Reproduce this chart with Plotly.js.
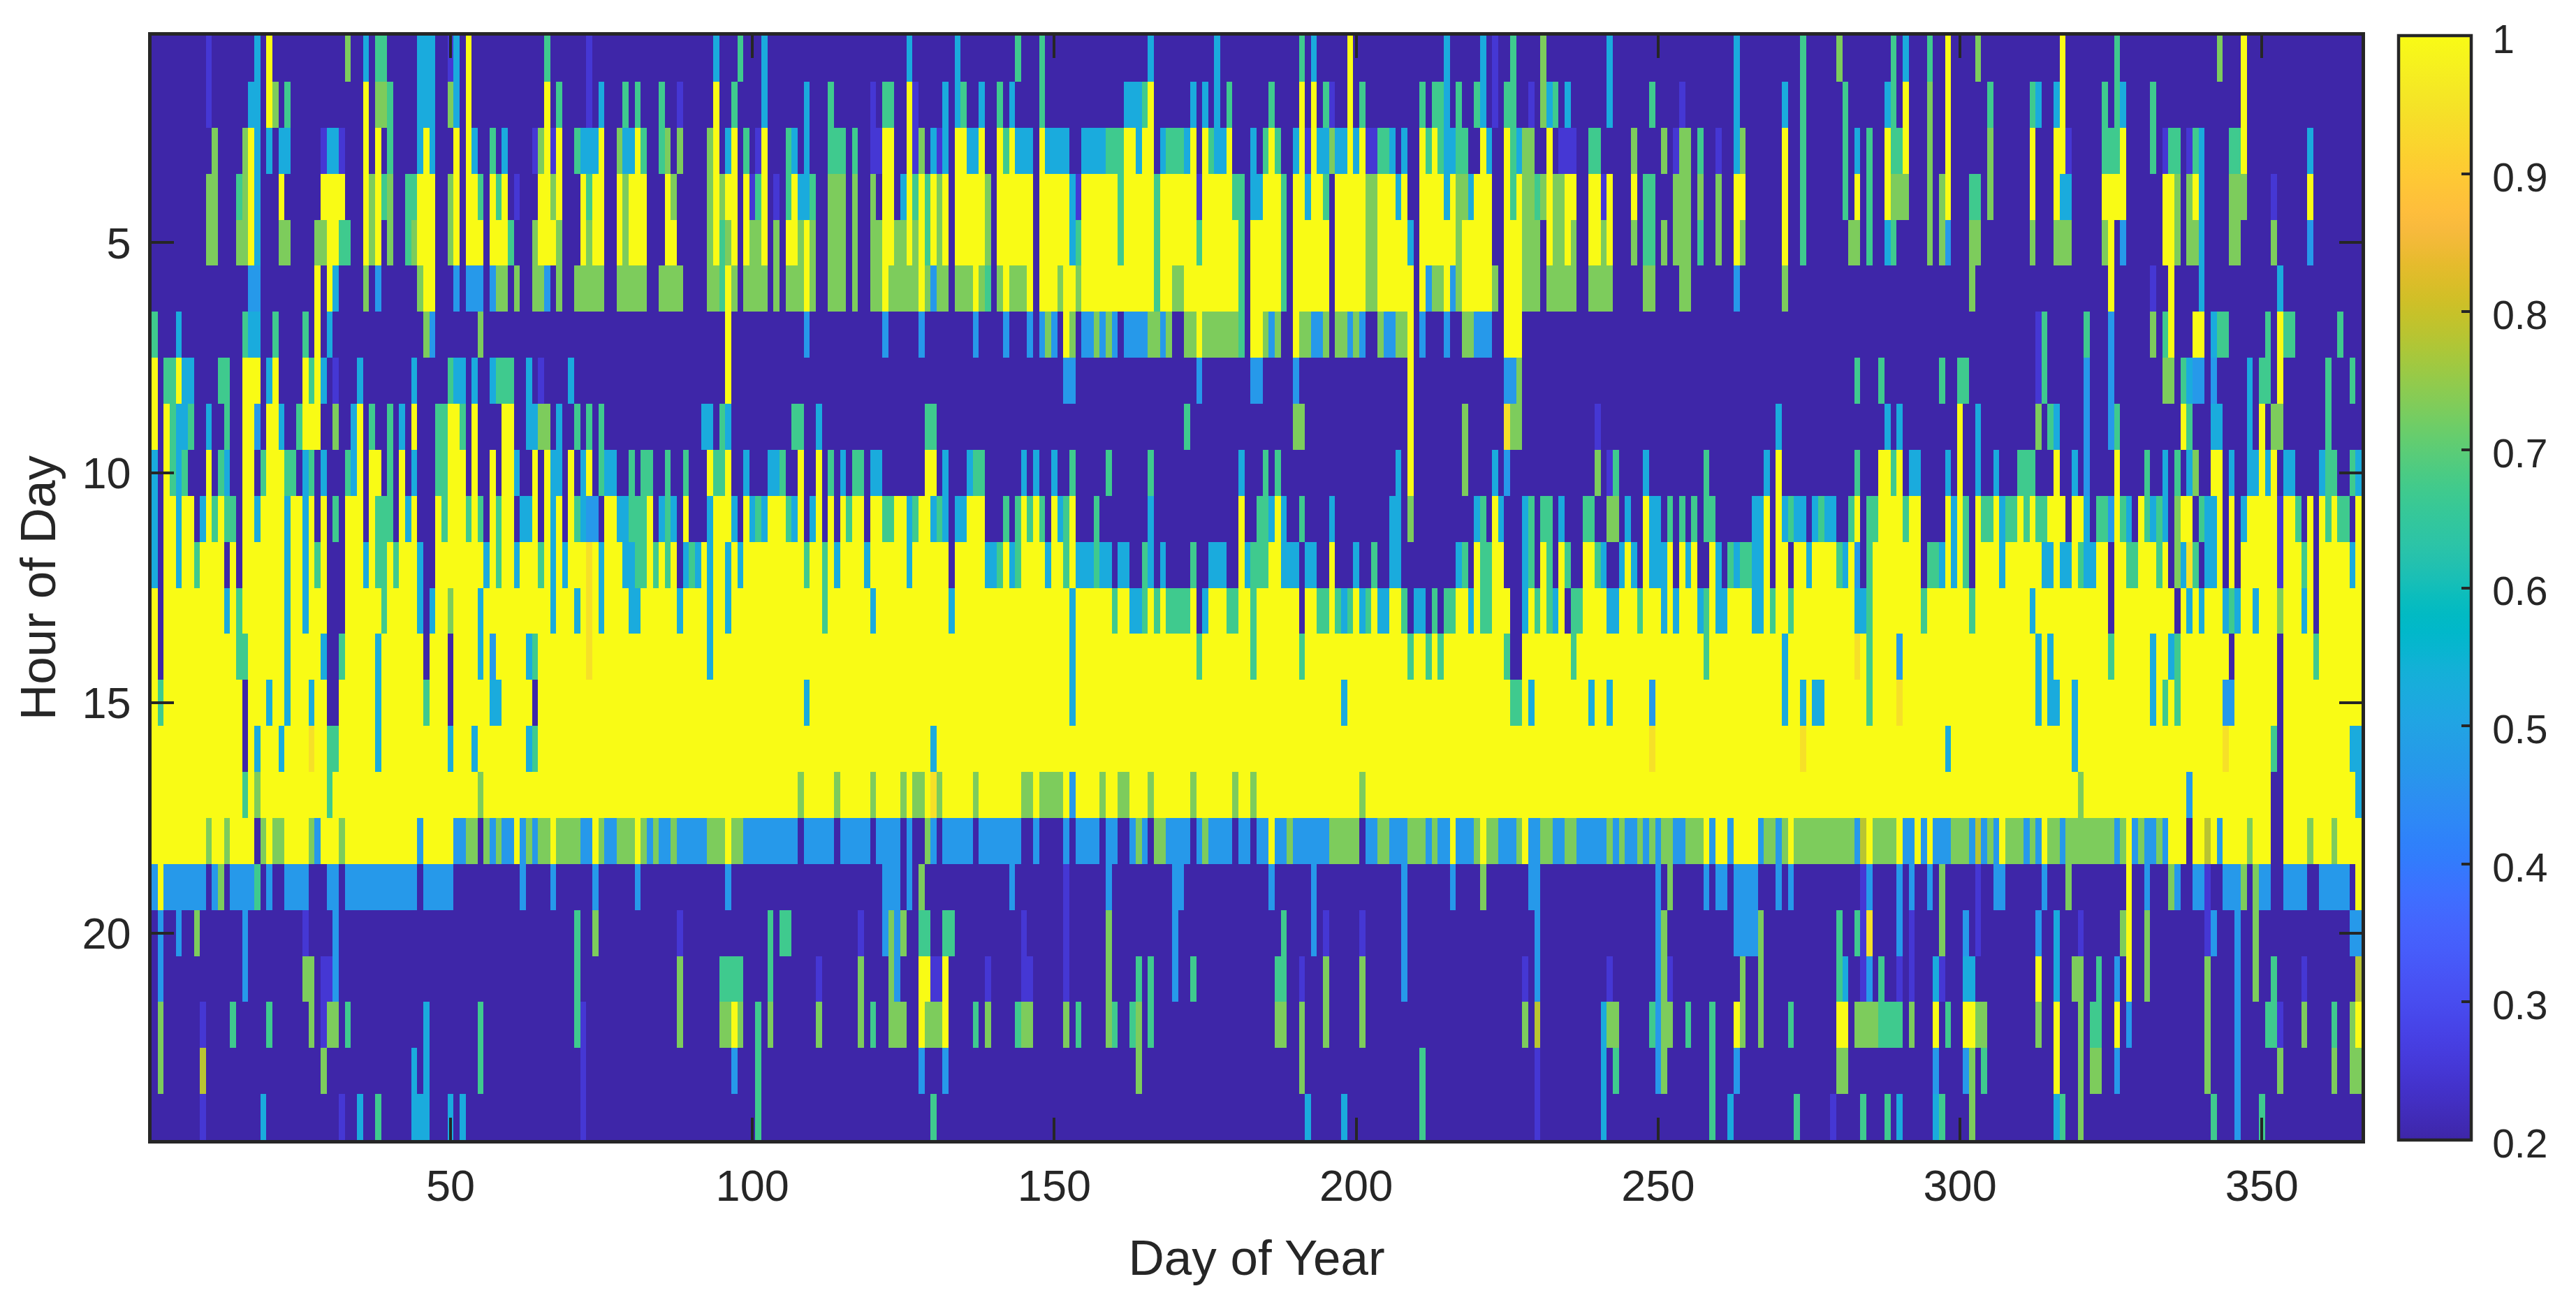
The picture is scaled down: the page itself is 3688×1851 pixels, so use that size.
<!DOCTYPE html>
<html><head><meta charset="utf-8">
<script src="https://cdn.plot.ly/plotly-3.0.1.min.js"></script>
<style>html,body{margin:0;padding:0;background:#fff}</style></head>
<body><div id="chart" style="width:3688px;height:1851px"></div>
<script>
// Levels (index = code used in the rows below).
const levels=[0.2,0.25,0.472,0.524,0.67,0.73,0.784,0.944,1,1];
const days=Array.from({length:366},(_,i)=>i+1);
const hours=Array.from({length:24},(_,i)=>i+1);
const xTicks=[50,100,150,200,250,300,350];
const yTicks=[5,10,15,20];
const cbTicks=[0.2,0.3,0.4,0.5,0.6,0.7,0.8,0.9,1];
const cbText=['0.2','0.3','0.4','0.5','0.6','0.7','0.8','0.9','1'];
// Each entry: [day,code] or [firstDay,lastDay,code]; later entries overwrite earlier ones; unlisted = code 0.
const hour01=[[10,1],[18,3],[20,9],[33,5],[36,3],[38,39,4],[45,47,3],[50,1],[51,3],[53,9],[66,4],[73,1],[94,3],[98,4],[102,3],[126,3],[134,3],[144,4],[148,4],[166,3],[177,3],[191,4],[193,3],[199,9],[215,3],[221,3],[223,1],[226,4],[231,5],[242,3],[263,3],[274,4],[280,5],[289,4],[291,3],[295,4],[298,9],[303,5],[317,9],[326,4],[343,5],[347,9]];
const hour02=[[10,1],[17,18,3],[20,9],[21,5],[23,4],[36,9],[38,39,5],[40,4],[45,47,3],[50,5],[51,3],[53,9],[66,9],[68,4],[73,1],[75,3],[79,4],[81,4],[85,4],[88,1],[94,9],[97,4],[102,3],[109,3],[113,4],[120,1],[122,123,4],[126,9],[127,1],[132,3],[134,3],[135,4],[138,3],[141,4],[143,3],[148,4],[162,164,3],[165,4],[166,9],[173,3],[175,3],[177,3],[179,4],[186,4],[191,9],[193,9],[195,4],[196,1],[199,9],[201,4],[211,4],[213,214,4],[215,3],[217,4],[220,4],[221,3],[223,1],[225,226,4],[229,1],[231,5],[232,3],[233,4],[235,3],[242,3],[249,4],[254,1],[263,3],[271,3],[274,4],[281,4],[288,3],[289,4],[291,9],[295,5],[298,9],[305,4],[312,4],[313,3],[316,3],[317,9],[324,4],[326,4],[327,3],[332,4],[347,9]];
const hour03=[[11,5],[16,5],[17,9],[18,3],[20,3],[22,23,3],[29,1],[30,31,3],[32,1],[36,9],[38,9],[40,4],[45,3],[46,9],[47,3],[51,9],[53,9],[54,3],[57,4],[59,3],[64,1],[65,5],[66,9],[67,1],[68,9],[71,4],[72,74,3],[75,9],[78,5],[79,80,3],[81,9],[82,4],[85,4],[86,5],[88,5],[93,5],[94,9],[96,3],[97,9],[99,4],[101,1],[102,9],[106,4],[107,3],[109,3],[113,115,4],[117,4],[120,121,1],[122,123,9],[126,9],[127,1],[128,5],[130,3],[131,1],[132,3],[134,135,9],[136,137,3],[138,9],[141,9],[142,4],[143,9],[144,146,3],[148,9],[149,152,3],[155,158,3],[159,160,4],[161,4],[162,163,9],[164,3],[165,166,9],[168,3],[169,171,4],[172,3],[173,9],[175,9],[176,4],[177,178,3],[179,9],[183,3],[185,4],[186,9],[187,4],[190,3],[191,9],[192,1],[193,9],[194,195,3],[196,5],[197,198,3],[199,9],[200,3],[201,9],[202,203,1],[204,205,4],[206,3],[208,3],[211,9],[212,4],[213,9],[214,4],[215,216,3],[217,218,4],[221,9],[222,3],[225,9],[226,4],[227,3],[228,229,5],[232,9],[234,236,1],[239,240,4],[246,5],[251,5],[253,1],[254,255,5],[257,4],[260,1],[263,3],[264,5],[271,9],[274,4],[281,4],[283,3],[285,4],[288,9],[289,290,4],[291,9],[295,5],[298,9],[305,5],[312,9],[316,317,9],[318,1],[324,326,4],[327,9],[332,4],[334,1],[335,336,4],[338,1],[339,4],[340,3],[345,346,4],[347,9],[358,3]];
const hour04=[[10,11,5],[15,4],[16,5],[17,9],[18,3],[22,9],[29,32,9],[36,9],[37,5],[38,9],[39,4],[40,5],[43,44,4],[45,47,9],[50,5],[51,9],[53,54,9],[55,4],[57,9],[58,4],[59,9],[61,1],[65,66,9],[67,5],[68,9],[72,9],[73,4],[74,75,9],[78,9],[79,5],[80,82,9],[86,9],[87,5],[93,5],[94,9],[95,5],[96,97,9],[99,9],[100,1],[101,4],[102,9],[104,1],[106,4],[107,9],[108,3],[109,3],[110,4],[113,115,5],[117,5],[120,5],[122,123,9],[125,3],[126,9],[127,4],[128,9],[129,4],[130,9],[131,5],[132,9],[134,138,9],[139,5],[141,146,9],[148,152,9],[153,3],[154,1],[155,160,9],[161,4],[162,166,9],[167,4],[168,173,9],[174,1],[175,179,9],[180,181,4],[183,184,3],[185,187,9],[188,4],[190,191,9],[192,3],[193,194,9],[195,4],[197,201,9],[202,203,5],[204,206,9],[207,3],[208,9],[211,214,9],[215,3],[216,9],[217,218,5],[219,3],[220,222,9],[225,9],[226,4],[227,9],[228,229,5],[230,4],[231,5],[232,9],[233,234,5],[235,236,9],[239,240,9],[241,1],[242,9],[246,9],[248,249,4],[253,255,5],[257,5],[260,5],[263,264,9],[271,9],[274,4],[281,4],[283,9],[285,4],[288,9],[289,291,5],[295,5],[297,5],[298,9],[302,303,4],[305,5],[312,9],[316,9],[317,318,3],[324,325,9],[326,327,9],[334,335,9],[336,5],[338,5],[339,9],[340,3],[345,347,5],[352,1],[358,9]];
const hour05=[[10,11,5],[15,16,5],[17,9],[18,3],[22,23,5],[28,29,5],[30,31,9],[32,33,4],[36,9],[37,5],[38,9],[40,5],[43,4],[44,5],[45,47,9],[50,5],[51,9],[53,55,9],[57,59,9],[60,4],[64,5],[65,67,9],[68,5],[72,9],[73,5],[74,75,9],[78,9],[79,5],[80,82,9],[86,87,9],[93,5],[94,9],[95,4],[96,5],[97,9],[99,9],[100,101,5],[102,9],[104,5],[106,107,9],[108,5],[109,9],[110,5],[113,115,5],[117,5],[120,121,5],[122,123,9],[124,126,5],[126,9],[127,5],[128,9],[129,4],[130,9],[131,5],[132,9],[134,138,9],[139,5],[141,146,9],[148,152,9],[153,3],[154,4],[155,160,9],[161,4],[162,166,9],[167,4],[168,173,9],[174,4],[175,180,9],[181,4],[183,187,9],[188,4],[190,195,9],[197,201,9],[202,203,5],[204,208,9],[209,3],[211,216,9],[217,5],[218,222,9],[225,227,9],[228,230,5],[232,9],[233,234,5],[235,9],[236,5],[239,240,9],[241,5],[242,9],[246,5],[248,249,4],[251,5],[253,255,5],[257,4],[260,5],[263,9],[264,5],[271,9],[274,4],[282,283,5],[285,4],[288,3],[289,4],[295,5],[297,5],[298,2],[302,303,5],[312,5],[316,318,5],[324,5],[325,9],[327,2],[334,335,9],[336,5],[338,339,5],[340,3],[345,346,5],[352,5],[358,2]];
const hour06=[[17,18,2],[28,9],[30,9],[31,3],[36,5],[38,2],[45,5],[46,47,9],[51,2],[53,55,2],[57,2],[58,59,5],[61,5],[64,65,5],[66,2],[68,5],[71,75,5],[78,82,5],[85,88,5],[93,94,5],[95,4],[96,9],[97,5],[99,102,5],[104,5],[106,110,5],[109,9],[113,115,5],[117,5],[120,127,5],[122,9],[128,9],[129,5],[130,2],[131,132,5],[134,136,5],[137,9],[138,5],[139,4],[141,5],[142,9],[143,145,5],[146,9],[148,150,9],[151,5],[152,153,9],[154,5],[155,166,9],[167,4],[168,169,9],[170,171,5],[172,180,9],[181,4],[183,187,9],[188,4],[190,195,9],[197,201,9],[202,203,5],[204,209,9],[211,9],[212,2],[213,214,5],[215,9],[216,2],[217,5],[218,222,9],[223,5],[225,227,9],[228,230,5],[232,236,5],[239,242,5],[248,249,5],[254,255,5],[263,2],[271,5],[302,5],[325,9],[332,1],[335,9],[340,3],[353,3]];
const hour07=[[1,4],[5,3],[16,4],[17,18,3],[21,4],[26,4],[28,9],[30,3],[46,5],[47,2],[55,5],[96,9],[109,2],[122,2],[128,2],[137,2],[142,2],[146,2],[148,2],[149,5],[150,2],[152,9],[153,5],[155,156,2],[157,5],[158,2],[159,5],[160,2],[162,165,2],[166,167,5],[168,2],[169,5],[172,173,5],[174,9],[175,180,5],[181,4],[183,184,9],[185,5],[186,2],[187,5],[190,9],[191,192,5],[193,194,2],[195,5],[197,198,5],[199,2],[200,5],[201,2],[204,5],[205,206,2],[207,208,5],[209,9],[211,2],[215,2],[218,219,5],[220,222,2],[225,227,9],[313,1],[314,4],[321,4],[325,2],[332,5],[334,4],[335,9],[339,340,9],[342,3],[343,344,4],[351,4],[353,9],[354,355,4],[363,4]];
const hour08=[[1,9],[3,4,4],[5,9],[6,7,3],[12,13,4],[16,18,9],[20,3],[21,9],[26,9],[27,4],[28,9],[29,3],[31,1],[35,3],[44,3],[50,4],[51,52,3],[54,3],[57,3],[58,60,4],[63,3],[65,1],[70,3],[96,9],[152,153,2],[174,2],[183,184,2],[190,2],[209,9],[225,226,2],[227,5],[283,4],[287,4],[297,4],[300,301,4],[313,1],[314,4],[321,2],[325,2],[334,335,5],[337,4],[338,3],[339,2],[340,2],[342,2],[348,3],[350,351,4],[353,9],[361,4],[365,4]];
const hour09=[[1,9],[3,9],[4,4],[5,6,3],[7,4],[10,3],[13,4],[16,17,9],[18,2],[20,21,9],[22,3],[25,4],[26,28,9],[31,5],[34,3],[35,9],[37,4],[40,4],[42,3],[44,9],[48,49,4],[50,51,9],[52,4],[54,9],[59,60,9],[63,64,3],[65,66,5],[68,3],[71,4],[73,4],[75,4],[92,93,3],[95,4],[96,3],[107,108,4],[111,3],[129,130,4],[172,4],[190,191,5],[209,9],[218,5],[225,7],[226,227,5],[240,1],[270,3],[288,3],[290,3],[300,9],[303,3],[313,5],[315,4],[316,3],[321,2],[325,2],[326,4],[337,9],[338,4],[342,343,3],[348,3],[350,9],[352,353,5],[361,4]];
const hour10=[[1,3],[3,9],[4,4],[5,3],[6,4],[10,9],[12,4],[13,3],[16,17,9],[19,4],[20,22,9],[23,24,4],[26,3],[27,4],[29,3],[33,4],[34,3],[35,9],[37,38,9],[40,4],[42,9],[44,3],[48,49,4],[50,52,9],[54,9],[57,9],[59,60,9],[61,3],[64,9],[66,9],[67,68,3],[70,9],[72,3],[73,9],[75,4],[76,77,3],[80,4],[82,83,4],[86,4],[89,4],[93,9],[94,95,4],[96,9],[99,3],[103,104,3],[105,4],[108,9],[111,9],[113,4],[115,3],[117,118,4],[120,121,3],[129,130,9],[132,3],[136,3],[137,138,4],[145,3],[147,3],[150,3],[153,4],[159,4],[166,4],[181,3],[185,4],[187,4],[207,3],[209,9],[218,5],[223,3],[225,2],[240,5],[242,1],[243,4],[248,3],[258,4],[268,3],[270,9],[283,4],[287,288,9],[289,4],[290,9],[292,293,3],[298,3],[300,9],[303,3],[306,3],[310,312,4],[316,9],[319,3],[321,2],[326,9],[331,4],[334,3],[336,4],[338,3],[339,5],[342,343,9],[345,3],[348,349,3],[350,9],[351,3],[352,9],[354,355,3],[360,3],[361,362,4],[365,4],[366,3]];
const hour11=[[1,3],[3,4,9],[5,3],[6,7,9],[9,3],[10,9],[11,4],[12,9],[13,14,4],[16,17,9],[18,3],[19,22,9],[23,3],[24,25,9],[26,3],[27,9],[29,9],[31,4],[33,35,9],[37,9],[38,40,4],[42,9],[43,3],[44,9],[48,9],[49,4],[50,52,9],[53,4],[54,9],[55,4],[57,9],[58,4],[59,60,9],[62,63,3],[64,9],[66,9],[67,3],[68,9],[70,9],[71,4],[72,3],[73,74,2],[76,77,9],[78,79,3],[80,82,4],[83,9],[85,3],[86,4],[87,3],[89,9],[93,3],[94,96,9],[97,3],[99,9],[100,3],[101,4],[102,3],[103,105,9],[106,4],[107,3],[108,9],[110,3],[111,9],[113,9],[115,9],[116,4],[117,118,9],[120,121,9],[122,123,4],[124,125,9],[126,3],[127,4],[128,129,9],[130,3],[131,4],[132,3],[134,135,3],[136,138,9],[142,4],[144,4],[145,9],[146,4],[147,9],[148,4],[150,9],[151,3],[152,4],[153,9],[157,4],[166,3],[181,9],[184,185,4],[186,3],[187,9],[188,3],[191,4],[196,3],[206,207,3],[209,5],[220,3],[221,4],[223,9],[224,3],[228,3],[229,4],[231,232,4],[234,3],[238,239,4],[242,243,5],[245,3],[248,9],[249,250,3],[252,4],[254,4],[256,4],[258,259,4],[266,267,3],[268,9],[270,9],[271,3],[272,4],[273,274,3],[276,3],[277,4],[278,279,3],[282,4],[283,9],[285,286,4],[287,290,9],[291,4],[292,293,9],[298,9],[299,3],[300,9],[301,4],[303,9],[304,305,4],[306,9],[307,3],[308,309,4],[310,9],[311,4],[312,9],[313,314,4],[315,317,9],[319,320,9],[321,3],[323,324,4],[325,2],[326,9],[327,4],[328,3],[330,9],[331,4],[332,3],[333,4],[334,3],[336,5],[337,338,9],[340,4],[341,342,3],[343,9],[345,9],[347,3],[348,352,9],[353,1],[354,355,9],[356,4],[358,9],[360,9],[361,4],[362,9],[363,364,4],[366,9]];
const hour12=[[1,3],[3,4,9],[5,3],[6,7,9],[8,4],[9,12,9],[14,9],[16,22,9],[23,3],[24,25,9],[26,3],[27,9],[28,4],[29,9],[33,35,9],[36,3],[37,9],[38,39,4],[40,9],[41,4],[42,44,9],[45,3],[48,55,9],[56,3],[57,9],[58,4],[59,60,9],[61,3],[62,64,9],[65,4],[66,9],[67,3],[68,9],[69,3],[70,72,9],[73,7],[74,9],[75,3],[76,78,9],[79,80,3],[81,82,4],[83,9],[84,4],[85,9],[86,4],[87,9],[89,3],[90,4],[91,3],[92,9],[93,3],[94,95,9],[96,3],[97,9],[98,3],[99,108,9],[109,4],[110,111,9],[112,4],[113,9],[114,3],[115,118,9],[119,3],[120,125,9],[126,3],[127,132,9],[134,138,9],[139,140,3],[141,4],[142,9],[143,3],[144,4],[145,148,9],[149,3],[150,151,9],[152,4],[153,9],[154,156,3],[157,4],[158,159,3],[161,162,3],[165,4],[166,3],[168,3],[173,4],[176,178,3],[181,9],[182,3],[183,185,4],[186,187,9],[188,190,3],[192,193,3],[196,9],[200,3],[203,4],[206,207,3],[217,3],[218,4],[220,9],[221,222,4],[223,224,9],[228,3],[229,4],[231,9],[232,4],[234,9],[235,4],[238,239,9],[240,4],[241,3],[244,3],[245,9],[246,3],[248,9],[249,251,3],[252,9],[254,9],[255,3],[256,9],[259,9],[260,3],[262,4],[263,3],[264,265,4],[266,267,3],[268,9],[270,271,9],[273,274,9],[275,3],[276,279,9],[280,4],[281,3],[282,9],[283,2],[285,4],[286,293,9],[295,296,4],[297,3],[298,9],[299,3],[300,9],[301,4],[303,306,9],[307,3],[308,313,9],[314,315,3],[316,9],[317,318,3],[319,9],[320,4],[321,322,3],[323,324,9],[326,327,9],[328,329,4],[330,332,9],[333,4],[334,9],[336,5],[337,3],[338,7],[339,4],[341,342,3],[343,9],[345,9],[347,352,9],[353,1],[354,356,9],[357,4],[358,9],[360,364,9],[365,3],[366,9]];
const hour13=[[1,366,9],[2,0],[13,3],[15,4],[23,3],[26,3],[30,32,0],[39,4],[45,3],[46,0],[47,3],[50,5],[55,3],[67,3],[71,3],[73,7],[75,3],[80,81,3],[88,3],[93,3],[96,3],[112,4],[120,3],[133,3],[153,3],[160,4],[163,164,3],[165,4],[167,4],[169,172,4],[174,0],[175,3],[179,180,4],[183,4],[191,0],[194,195,4],[197,4],[198,3],[199,4],[201,3],[202,4],[204,205,3],[208,4],[209,0],[210,211,3],[212,0],[213,4],[214,0],[215,216,4],[219,3],[221,222,4],[226,227,0],[228,3],[230,4],[232,4],[233,3],[235,0],[236,237,4],[242,243,3],[247,4],[251,3],[253,3],[257,3],[258,4],[260,261,3],[266,267,3],[269,4],[272,4],[283,284,3],[285,4],[294,4],[302,4],[312,3],[325,0],[336,0],[338,3],[340,3],[344,3],[345,4],[346,3],[349,3],[353,5],[357,3],[359,0]];
const hour14=[[1,366,9],[2,0],[15,16,4],[23,3],[29,3],[30,31,0],[32,4],[38,3],[46,0],[50,0],[55,3],[57,2],[63,3],[64,4],[73,7],[93,3],[153,3],[174,4],[183,4],[191,4],[209,4],[212,4],[214,4],[225,4],[226,227,0],[236,4],[258,4],[271,3],[283,7],[285,4],[290,2],[313,3],[315,3],[325,4],[332,3],[335,3],[336,4],[345,0],[353,0],[359,4]];
const hour15=[[1,366,9],[2,4],[16,0],[20,3],[23,3],[27,3],[30,31,0],[38,3],[46,4],[50,0],[57,58,3],[64,0],[109,3],[153,3],[198,3],[226,227,4],[229,3],[239,3],[242,3],[249,2],[271,3],[274,3],[276,277,3],[285,4],[290,7],[313,3],[315,316,3],[319,3],[332,3],[334,4],[336,4],[344,345,2],[353,0]];
const hour16=[[1,366,9],[16,0],[18,3],[22,3],[27,7],[30,31,4],[38,3],[50,3],[54,3],[63,3],[64,4],[130,3],[249,7],[274,7],[298,3],[319,3],[344,7],[352,4],[353,0],[365,366,3]];
const hour17=[[1,366,9],[16,4],[18,5],[30,4],[55,5],[108,5],[114,5],[120,5],[125,5],[127,128,5],[130,7],[131,5],[137,5],[145,146,5],[148,151,5],[153,2],[158,5],[161,162,5],[166,5],[173,5],[180,5],[183,5],[201,5],[320,5],[338,2],[352,353,0],[366,3]];
const hour18=[[1,50,9],[51,252,2],[253,366,9],[10,5],[13,5],[18,0],[19,5],[21,22,5],[27,5],[28,2],[32,5],[45,2],[53,54,5],[55,0],[56,5],[58,5],[61,9],[63,5],[65,66,5],[67,9],[68,71,5],[74,9],[75,5],[78,80,5],[81,9],[82,5],[84,5],[87,5],[93,95,5],[96,9],[97,98,5],[108,0],[114,0],[120,0],[125,0],[127,128,0],[129,5],[131,0],[137,0],[145,146,0],[148,151,0],[153,0],[158,0],[161,162,0],[164,5],[166,0],[167,168,5],[173,0],[175,5],[180,0],[183,0],[186,9],[189,5],[196,200,5],[201,0],[204,205,5],[209,211,5],[213,5],[216,9],[220,5],[221,9],[222,223,5],[227,5],[228,9],[231,232,5],[235,236,5],[242,5],[244,5],[247,5],[249,5],[251,252,5],[253,254,2],[255,257,5],[259,2],[262,2],[267,2],[268,269,5],[270,2],[271,5],[273,282,5],[283,2],[284,6],[286,289,5],[291,292,2],[294,2],[296,298,2],[299,301,5],[302,2],[303,6],[304,2],[305,5],[306,2],[308,310,5],[311,2],[312,5],[313,2],[315,316,5],[317,2],[318,325,5],[326,2],[327,5],[329,2],[330,5],[331,332,2],[333,5],[334,2],[338,0],[341,6],[343,2],[348,5],[352,353,0],[358,5],[362,5]];
const hour19=[[1,2],[2,9],[3,9,2],[11,2],[12,5],[14,17,2],[18,4],[20,2],[23,26,2],[30,31,2],[33,44,2],[46,50,2],[62,2],[67,2],[74,2],[81,2],[96,2],[122,124,2],[126,2],[128,5],[143,2],[152,1],[159,2],[170,171,2],[186,2],[193,2],[208,2],[216,2],[221,5],[229,230,2],[250,2],[252,5],[258,2],[260,261,2],[263,266,2],[270,2],[272,2],[284,1],[285,2],[290,2],[292,2],[295,2],[297,5],[303,1],[306,307,2],[314,2],[318,5],[328,9],[331,2],[335,5],[336,2],[339,340,2],[341,1],[344,346,2],[347,5],[349,5],[350,351,2],[354,357,2],[360,362,2],[363,364,2],[366,9]];
const hour20=[[2,2],[5,2],[8,5],[16,2],[26,1],[31,2],[71,4],[74,5],[88,1],[103,4],[105,106,4],[118,1],[122,2],[123,5],[124,2],[125,5],[128,129,4],[132,133,4],[145,1],[152,1],[159,5],[170,2],[188,4],[193,2],[195,1],[201,1],[208,2],[230,2],[250,2],[251,5],[263,266,2],[267,5],[280,4],[283,4],[284,1],[285,7],[290,2],[292,1],[297,5],[301,2],[303,1],[313,2],[316,3],[320,1],[327,5],[328,9],[331,5],[341,1],[342,2],[346,2],[349,5],[365,366,2]];
const hour21=[[2,2],[16,2],[26,27,5],[29,30,1],[31,2],[71,4],[88,5],[95,98,4],[103,4],[111,1],[118,5],[123,5],[124,2],[128,129,9],[130,131,1],[132,9],[139,1],[145,146,1],[152,1],[159,5],[164,4],[166,4],[170,2],[173,4],[187,188,4],[191,1],[195,5],[201,5],[208,2],[228,1],[230,2],[242,1],[250,2],[251,5],[252,1],[264,5],[267,5],[280,4],[281,3],[284,1],[285,2],[287,4],[290,1],[292,1],[296,3],[297,1],[301,302,3],[313,9],[316,3],[319,320,5],[323,4],[326,2],[328,9],[331,5],[341,5],[346,2],[349,5],[352,4],[357,1],[366,6]];
const hour22=[[2,5],[9,1],[14,4],[20,4],[27,5],[29,1],[30,31,5],[33,4],[46,3],[55,4],[71,4],[72,1],[88,5],[95,96,5],[97,9],[98,5],[101,4],[103,5],[111,5],[118,5],[120,4],[123,125,5],[128,9],[129,131,5],[132,9],[137,4],[139,5],[144,4],[145,146,5],[152,5],[154,4],[159,5],[160,4],[163,4],[164,5],[166,4],[187,188,5],[191,5],[195,5],[201,5],[228,5],[230,6],[241,3],[242,243,5],[249,4],[250,2],[251,252,5],[255,4],[259,4],[263,9],[264,5],[267,5],[272,4],[280,281,9],[283,286,5],[287,290,4],[292,5],[296,9],[298,4],[301,302,9],[303,304,5],[313,5],[316,9],[320,5],[322,323,4],[326,9],[328,2],[341,5],[346,2],[351,352,4],[353,1],[357,5],[362,4],[365,5],[366,9]];
const hour23=[[2,5],[9,6],[29,5],[44,3],[46,3],[55,4],[72,1],[97,2],[101,4],[128,2],[132,2],[164,5],[191,5],[211,4],[230,1],[241,3],[243,4],[250,2],[251,5],[259,4],[263,2],[280,281,5],[296,2],[301,2],[302,5],[304,4],[316,9],[320,5],[322,323,5],[326,2],[341,5],[346,2],[353,5],[362,5],[365,366,5]];
const hour24=[[9,1],[19,3],[32,1],[35,3],[38,4],[44,46,3],[50,3],[52,3],[72,1],[101,4],[130,4],[192,3],[198,3],[211,4],[230,1],[241,3],[259,4],[262,3],[273,4],[279,1],[284,4],[288,4],[290,3],[296,3],[297,4],[302,5],[316,3],[317,4],[320,5],[342,4],[346,2],[350,4]];
const hourRows=[hour01,hour02,hour03,hour04,hour05,hour06,hour07,hour08,hour09,hour10,hour11,hour12,hour13,hour14,hour15,hour16,hour17,hour18,hour19,hour20,hour21,hour22,hour23,hour24];
// MATLAB parula colormap.
const parula=[[.2422,.1504,.6603],[.2504,.165,.7076],[.2578,.1818,.7511],[.2647,.1978,.7952],[.2706,.2147,.8364],[.2751,.2342,.871],[.2783,.2559,.8991],[.2803,.2782,.9221],[.2813,.3006,.9414],[.281,.3228,.9579],[.2795,.3447,.9717],[.276,.3667,.9829],[.2699,.3892,.9906],[.2602,.4123,.9952],[.244,.4358,.9988],[.2206,.4603,.9973],[.1963,.4847,.9892],[.1834,.5074,.9798],[.1786,.5289,.9682],[.1764,.5499,.952],[.1687,.5703,.9359],[.154,.5902,.9218],[.146,.6091,.9079],[.138,.6276,.8973],[.1248,.6459,.8883],[.1113,.6635,.8763],[.0952,.6798,.8598],[.0689,.6948,.8394],[.0297,.7082,.8163],[.0036,.7203,.7917],[.0067,.7312,.766],[.0433,.7411,.7394],[.0964,.75,.712],[.1408,.7584,.6842],[.1717,.767,.6554],[.1938,.7758,.6251],[.2161,.7843,.5923],[.247,.7918,.5567],[.2906,.7973,.5188],[.3406,.8008,.4789],[.3909,.8029,.4354],[.4456,.8024,.3909],[.5044,.7993,.348],[.5616,.7942,.3045],[.6174,.7876,.2612],[.672,.7793,.2227],[.7242,.7698,.191],[.7738,.7598,.1646],[.8203,.7498,.1535],[.8634,.7406,.1596],[.9035,.733,.1774],[.9393,.7288,.21],[.9728,.7298,.2394],[.9956,.7434,.2371],[.997,.7659,.2199],[.9952,.7893,.2028],[.9892,.8136,.1885],[.9786,.8386,.1766],[.9676,.8639,.1643],[.961,.889,.1537],[.9597,.9135,.1423],[.9628,.9373,.1265],[.9691,.9606,.1064],[.9769,.9839,.0805]];
const colorscale=parula.map((c,i)=>[i/(parula.length-1),'rgb('+c.map(v=>Math.round(v*255)).join(',')+')']);
const z=hourRows.map(row=>{
  const r=days.map(()=>levels[0]);
  row.forEach(e=>{const a=e[0],b=e.length===3?e[1]:e[0],c=e[e.length-1];for(let d=a;d<=b;d++)r[d-1]=levels[c];});
  return r;
});
const ink='#262626',font='"Liberation Sans",Arial,sans-serif';
const W=3688,H=1851,L=216.5,R=3381,T=51,B=1632;
function axis(extra){return Object.assign({showgrid:false,zeroline:false,showline:true,mirror:'ticks',linecolor:ink,linewidth:4.5,ticks:'inside',ticklen:32,tickwidth:4,tickcolor:ink,tickfont:{family:font,size:63,color:ink},layer:'above traces'},extra);}
Plotly.newPlot('chart',[{type:'heatmap',x:days,y:hours,z:z,zmin:0.2,zmax:1,zsmooth:false,colorscale:colorscale,
  colorbar:{x:(3434-L)/(R-L),xanchor:'left',y:1,yanchor:'top',xpad:0,ypad:0,thicknessmode:'pixels',thickness:104,lenmode:'fraction',len:1,outlinecolor:ink,outlinewidth:4.5,ticks:'inside',ticklen:16,tickwidth:4,tickcolor:ink,tickmode:'array',tickvals:cbTicks,ticktext:cbText,tickfont:{family:font,size:57,color:ink}}}],
 {width:W,height:H,paper_bgcolor:'#fff',plot_bgcolor:'#fff',margin:{l:L,r:W-R,t:T,b:H-B,pad:0},
  xaxis:axis({range:[0.5,366.5],tickmode:'array',tickvals:xTicks,ticktext:xTicks.map(String),ticklabelstandoff:7,title:{text:'Day of Year',font:{family:font,size:71,color:ink},standoff:45}}),
  yaxis:axis({range:[24.5,0.5],tickmode:'array',tickvals:yTicks,ticktext:yTicks.map(String),ticklabelstandoff:12,title:{text:'Hour of Day',font:{family:font,size:71,color:ink},standoff:16}})},
 {displayModeBar:false,responsive:false}).then(()=>{
  // Nudge the colour-bar tick labels to the reference offset.
  document.querySelectorAll('#chart .colorbar .cbaxis text, #chart .colorbar g[class*="tick"] text').forEach(t=>{
    if(t.parentNode) t.parentNode.setAttribute('transform','translate(16,5)');
  });
});
</script></body></html>
